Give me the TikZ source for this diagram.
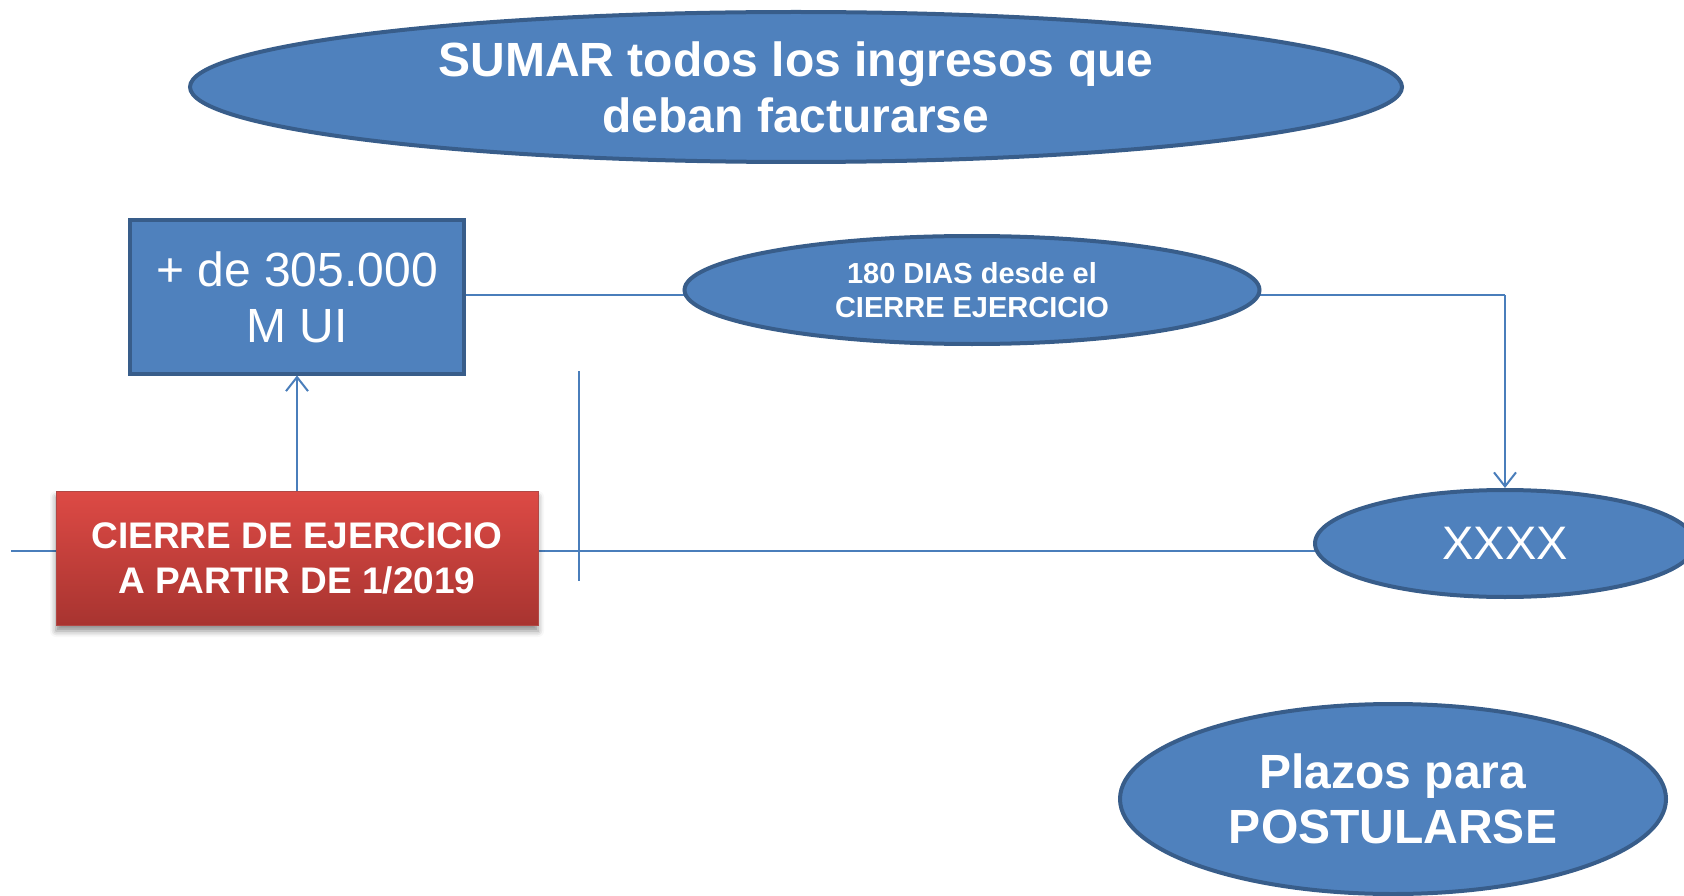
\documentclass[tikz,border=0pt]{standalone}
\usepackage{fontspec}
\setmainfont{Liberation Sans}
\usetikzlibrary{shapes.geometric,arrows.meta,shadows,shadows.blur,backgrounds}
\definecolor{bfill}{HTML}{4F81BD}
\definecolor{bline}{HTML}{385D8A}
\definecolor{conn}{HTML}{4A7EBB}
\definecolor{rtop}{HTML}{DD4A45}
\definecolor{rbot}{HTML}{A83430}
\tikzset{
  ell/.style={ellipse, fill=bfill, draw=bline, line width=4pt, inner sep=0pt, text=white, align=center},
  bluebox/.style={rectangle, fill=bfill, draw=bline, line width=4pt, inner sep=0pt, text=white, align=center},
  redbox/.style={rectangle, top color=rtop, bottom color=rbot, draw=rbot!90!white, line width=1pt, inner sep=0pt, text=white, align=center,
     blur shadow={shadow xshift=0pt, shadow yshift=-6pt, shadow blur radius=6pt, shadow opacity=45}},
  connector/.style={draw=conn, line width=2pt},
  tip/.style={-{Straight Barb[length=14pt,width=22pt,line width=2pt]}}
}
\begin{document}
\begin{tikzpicture}[x=1pt,y=-1pt]
\useasboundingbox (0,0) rectangle (1684,896);
\clip (0,0) rectangle (1684,896);
\node[ell, minimum width=1212pt, minimum height=150pt, font=\bfseries\fontsize{48}{56}\selectfont] (sumar) at (796,87) {SUMAR todos los ingresos que\\deban facturarse};
\node[bluebox, minimum width=334pt, minimum height=153pt, font=\fontsize{48}{56}\selectfont] (box) at (297,297) {+ de 305.000\\M UI};
\node[redbox, minimum width=482pt, minimum height=134pt, font=\bfseries\fontsize{37}{45}\selectfont] (cierre) at (297,558) {CIERRE DE EJERCICIO\\A PARTIR DE 1/2019};
\node[ell, minimum width=575pt, minimum height=108pt, font=\bfseries\fontsize{29}{34}\selectfont] (dias) at (972,290) {180 DIAS desde el\\CIERRE EJERCICIO};
\node[ell, minimum width=380pt, minimum height=107pt, font=\fontsize{47}{56}\selectfont] (xxxx) at (1505,543.5) {XXXX};
\node[ell, minimum width=546pt, minimum height=190pt, font=\bfseries\fontsize{48}{55}\selectfont] (plazos) at (1393,799) {Plazos para\\POSTULARSE};
\coordinate (lstart) at (11,551);
\coordinate (vtop) at (579,371);
\coordinate (vbot) at (579,581);
\coordinate (corner) at (1505,295);
\begin{scope}[on background layer]
\draw[connector] (lstart) -- (lstart -| xxxx.center);
\draw[connector] (box.center |- corner) -- (corner);
\end{scope}
\draw[connector, tip] (corner) -- (xxxx.north);
\draw[connector] (vtop) -- (vbot);
\draw[connector, tip] (cierre.north) -- (box.south);
\end{tikzpicture}
\end{document}
